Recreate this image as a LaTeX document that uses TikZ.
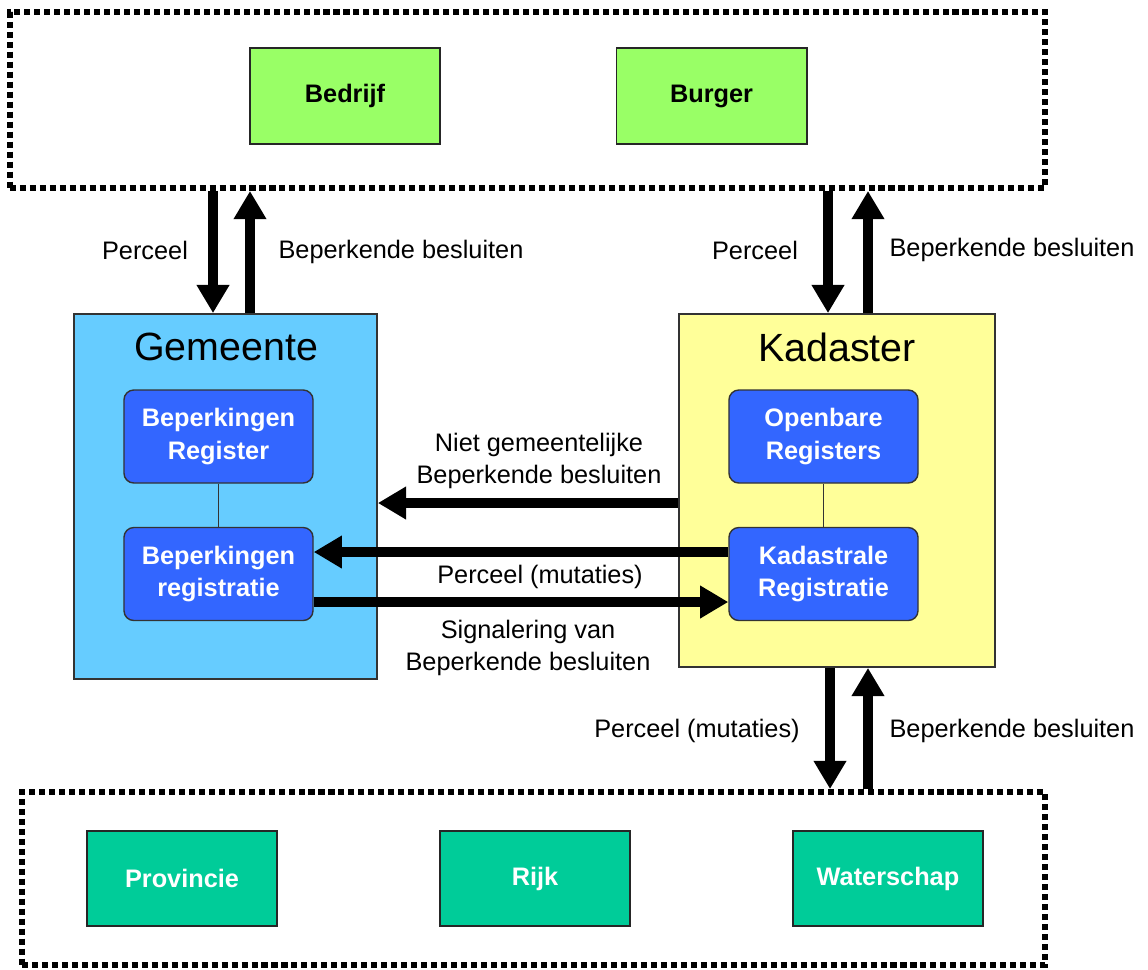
\documentclass[tikz,border=0pt]{standalone}
\usepackage{fontspec}
\setmainfont{Liberation Sans}
\usetikzlibrary{arrows.meta}
\definecolor{actgreen}{HTML}{99FF66}
\definecolor{govgreen}{HTML}{00CC99}
\definecolor{gemblue}{HTML}{66CCFF}
\definecolor{kadyellow}{HTML}{FFFF99}
\definecolor{regblue}{HTML}{3366FF}

\begin{document}
\begin{tikzpicture}[
  x=0.025cm, y=-0.025cm,
  group/.style={draw, line width=4.2pt, dash pattern=on 4.3pt off 2.8pt, inner sep=0pt},
  actor/.style={draw=black!85, line width=1.4pt, fill=actgreen, inner sep=0pt, minimum width=4.75cm, minimum height=2.4cm, font=\fontsize{18}{22}\selectfont\bfseries},
  gov/.style={draw=black!85, line width=1.4pt, fill=govgreen, text=white, inner sep=0pt, minimum width=4.75cm, minimum height=2.375cm, font=\fontsize{18}{22}\selectfont\bfseries},
  org/.style={draw=black!80, line width=1.2pt, inner sep=0pt},
  reg/.style={draw=black!80, line width=1pt, fill=regblue, text=white, rounded corners=7pt, inner sep=0pt, minimum width=4.725cm, minimum height=2.325cm, align=center, font=\fontsize{18}{23}\selectfont\bfseries},
  title/.style={font=\fontsize{28}{32}\selectfont},
  lbl/.style={align=center, font=\fontsize{18}{23}\selectfont},
  fat/.style={line width=7pt, -{Triangle[width=22pt,length=20pt]}}
]
  \useasboundingbox (0,0) rectangle (1148,969);

  % outer groups
  \node[group, minimum width=25.875cm, minimum height=4.4cm] (top) at (527.5,100) {};
  \node[group, minimum width=25.575cm, minimum height=4.325cm] (bot) at (533.5,878.5) {};

  \node[actor] (bedrijf) at (345,96) {Bedrijf};
  \node[actor] (burger) at (711.5,96) {Burger};

  \node[gov] (prov) at (182,878.5) {Provincie};
  \node[gov] (rijk) at (535,878.5) {Rijk};
  \node[gov] (water) at (888,878.5) {Waterschap};

  % organisations
  \node[org, fill=gemblue, minimum width=7.575cm, minimum height=9.125cm] (gem) at (225.5,496.5) {};
  \node[org, fill=kadyellow, minimum width=7.9cm, minimum height=8.825cm] (kad) at (837,490.5) {};
  \node[title] (gemt) at (226,347) {Gemeente};
  \node[title] (kadt) at (837,347) {Kadaster};

  \node[reg] (breg) at (218.5,436.5) {Beperkingen\\Register};
  \node[reg] (bregi) at (218.5,574) {Beperkingen\\registratie};
  \node[reg] (oreg) at (823.5,436.5) {Openbare\\Registers};
  \node[reg] (kreg) at (823.5,574) {Kadastrale\\Registratie};
  \draw[black!80, line width=0.8pt] (breg) -- (bregi);
  \draw[black!80, line width=0.8pt] (oreg) -- (kreg);

  % helper coordinates for the arrows
  \coordinate (x1) at (213,0);
  \coordinate (x2) at (250,0);
  \coordinate (x3) at (828,0);
  \coordinate (x4) at (868,0);
  \coordinate (x5) at (830,0);
  \coordinate (y1) at (0,503);
  \coordinate (y2) at (0,552);
  \coordinate (y3) at (0,602);

  \draw[fat] (top.south -| x1) -- (gem.north -| x1);
  \draw[fat] (gem.north -| x2) -- (top.south -| x2);
  \draw[fat] (top.south -| x3) -- (kad.north -| x3);
  \draw[fat] (kad.north -| x4) -- (top.south -| x4);
  \draw[fat] (kad.south -| x5) -- (bot.north -| x5);
  \draw[fat] (bot.north -| x4) -- (kad.south -| x4);

  \draw[fat] (kad.west |- y1) -- (gem.east |- y1);
  \draw[fat] (kreg.west |- y2) -- (bregi.east |- y2);
  \draw[fat] (bregi.east |- y3) -- (kreg.west |- y3);

  % labels
  \node[lbl] (l1) at (145,250) {Perceel};
  \node[lbl] (l2) at (401,252) {Beperkende besluiten};
  \node[lbl] (l3) at (755,250) {Perceel};
  \node[lbl] (l4) at (1012,250) {Beperkende besluiten};
  \node[lbl] (l5) at (539,461) {Niet gemeentelijke\\Beperkende besluiten};
  \node[lbl] (l6) at (540,577) {Perceel (mutaties)};
  \node[lbl] (l7) at (528,648) {Signalering van\\Beperkende besluiten};
  \node[lbl] (l8) at (697,731) {Perceel (mutaties)};
  \node[lbl] (l9) at (1012,731) {Beperkende besluiten};
\end{tikzpicture}
\end{document}
